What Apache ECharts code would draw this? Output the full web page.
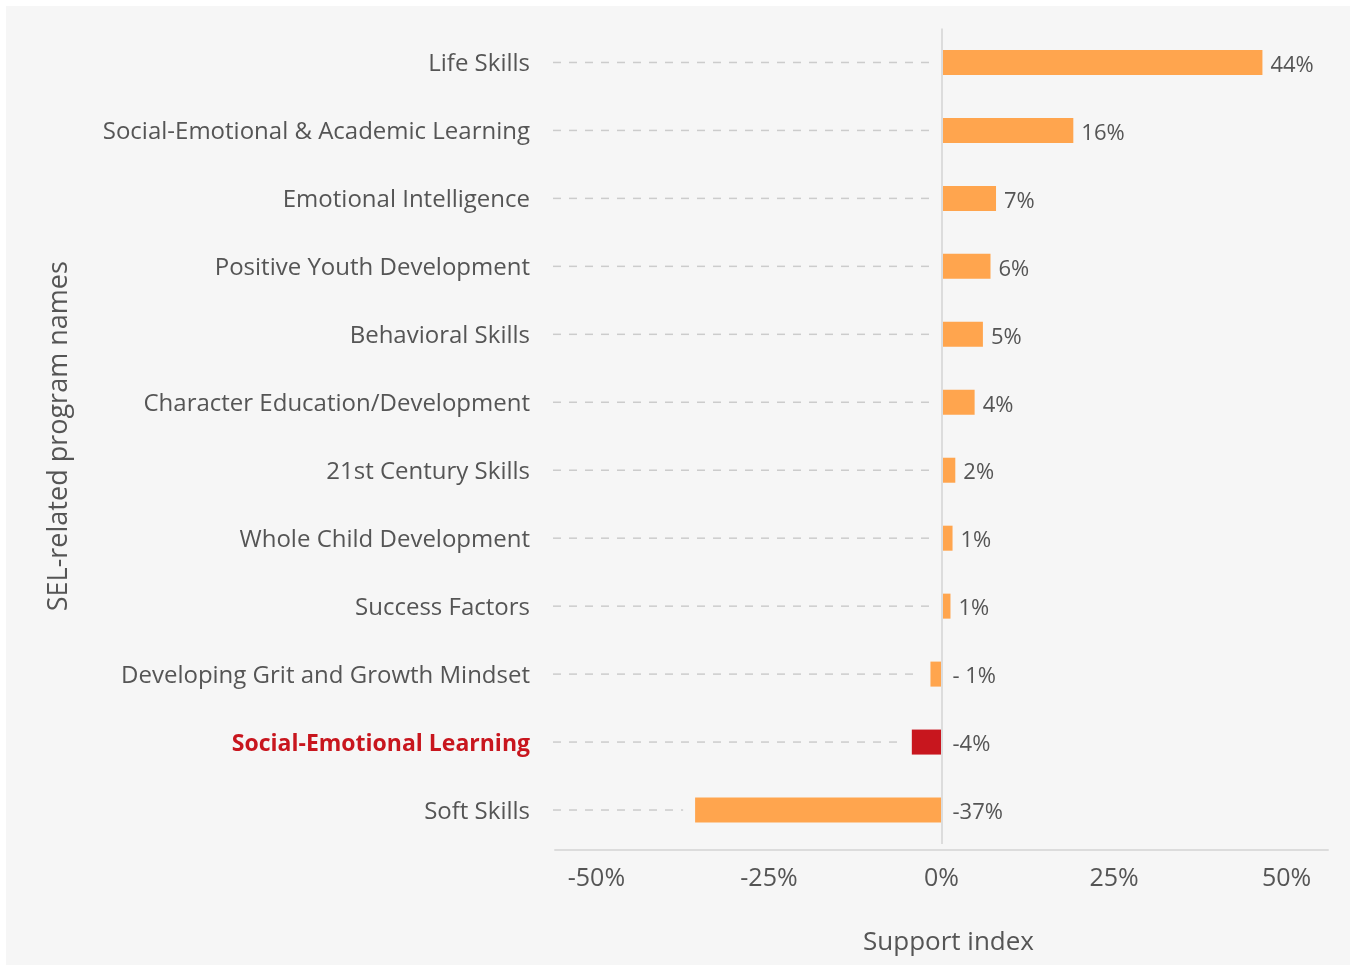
<!DOCTYPE html>
<html>
<head>
<meta charset="utf-8">
<title>SEL program names support index</title>
<script src="https://cdn.jsdelivr.net/npm/echarts@6/dist/echarts.min.js"></script>
<style>
  html, body {
    margin: 0;
    padding: 0;
    background: #ffffff;
  }
  #chart {
    position: absolute;
    left: 6px;
    top: 6px;
    width: 1344px;
    height: 959px;
    background: #f6f6f6;
  }
</style>
</head>
<body>
<div id="chart"></div>
<script>
// categories, top to bottom
const programNames = [
  'Life Skills',
  'Social-Emotional & Academic Learning',
  'Emotional Intelligence',
  'Positive Youth Development',
  'Behavioral Skills',
  'Character Education/Development',
  '21st Century Skills',
  'Whole Child Development',
  'Success Factors',
  'Developing Grit and Growth Mindset',
  'Social-Emotional Learning',
  'Soft Skills'
]

// bar lengths (percent)
const supportValues = [46.5, 19.1, 7.9, 7.1, 6.0, 4.8, 2.0, 1.6, 1.3, -1.6, -4.3, -35.7]

// printed value labels
const valueLabels = ['44%', '16%', '7%', '6%', '5%', '4%', '2%', '1%', '1%', '- 1%', '-4%', '-37%']

// highlighted category
const highlightName = 'Social-Emotional Learning'

// x axis ticks
const tickValues = [-50, -25, 0, 25, 50]
const axisMin = -56
const axisMax = 56

const FONT = "'Open Sans', 'Noto Sans', sans-serif"
const TEXT = '#555555'
const ORANGE = '#ffa54e'
const RED = '#c8161e'

const chart = echarts.init(document.getElementById('chart'))

// dashed leader line from the left edge to the start of each bar
const renderLeader = (params, api) => {
  const v = api.value(0)
  const idx = api.value(1)
  const start = api.coord([axisMin, idx])
  const end = api.coord([Math.min(v, 0), idx])
  return {
    type: 'line',
    shape: { x1: start[0] - 2, y1: start[1], x2: end[0] - 12, y2: end[1] },
    style: { stroke: '#cccccc', lineWidth: 1.5, lineDash: [8, 8] },
    silent: true
  }
}

const option = {
  backgroundColor: 'transparent',
  animation: false,
  grid: {
    left: 549,
    right: 22,
    top: 22.5,
    bottom: 121
  },
  xAxis: {
    type: 'value',
    min: axisMin,
    max: axisMax,
    offset: 6,
    name: 'Support index',
    nameLocation: 'middle',
    nameGap: 80,
    nameTextStyle: { color: TEXT, fontSize: 26, fontFamily: FONT, padding: [0, 0, 0, 14] },
    axisLine: { show: true, lineStyle: { color: '#dcdcdc', width: 2 } },
    axisTick: { show: false },
    splitLine: { show: false },
    axisLabel: {
      customValues: tickValues,
      formatter: v => v + '%',
      color: TEXT,
      fontSize: 25,
      fontFamily: FONT,
      margin: 16
    }
  },
  yAxis: {
    type: 'category',
    inverse: true,
    data: programNames,
    name: 'SEL-related program names',
    nameLocation: 'middle',
    nameGap: 482,
    nameRotate: 90,
    nameTextStyle: { color: TEXT, fontSize: 27, fontFamily: FONT },
    axisLine: { show: false, onZero: false },
    axisTick: { show: false },
    axisLabel: {
      margin: 25,
      padding: [4, 0, 0, 0],
      color: TEXT,
      fontSize: 24,
      fontFamily: FONT,
      formatter: name => name === highlightName ? '{hl|' + name + '}' : name,
      rich: {
        hl: { color: RED, fontWeight: 'bold', fontSize: 23, fontFamily: FONT }
      }
    }
  },
  series: [
    {
      type: 'custom',
      renderItem: renderLeader,
      encode: { x: 0, y: 1 },
      data: supportValues.map((v, i) => [v, i]),
      z: 1
    },
    {
      type: 'bar',
      barWidth: 25,
      z: 3,
      data: supportValues.map((v, i) => ({
        value: v,
        itemStyle: { color: programNames[i] === highlightName ? RED : ORANGE },
        label: { distance: v < 0 ? 11 : 8 }
      })),
      label: {
        show: true,
        position: 'right',
        distance: 8,
        offset: [0, 3],
        color: TEXT,
        fontSize: 22,
        fontFamily: FONT,
        formatter: p => valueLabels[p.dataIndex]
      },
      markLine: {
        silent: true,
        symbol: 'none',
        label: { show: false },
        lineStyle: { color: '#dcdcdc', width: 2, type: 'solid' },
        data: [{ xAxis: 0 }]
      }
    }
  ]
}

chart.setOption(option)
window.addEventListener('resize', () => chart.resize())
</script>
</body>
</html>
